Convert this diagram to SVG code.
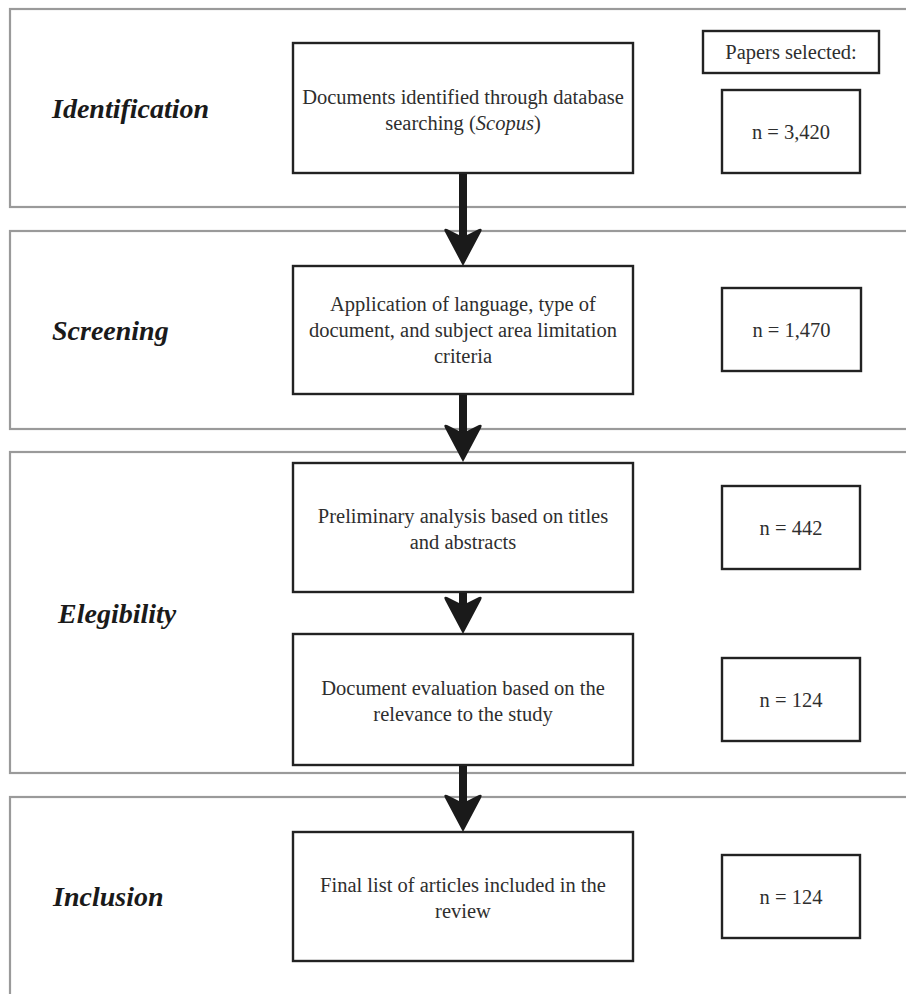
<svg xmlns="http://www.w3.org/2000/svg" width="906" height="994" viewBox="0 0 906 994">
<defs>
<style>
.sec{fill:#fff;stroke:#9a9a9a;stroke-width:2.2}
.box{fill:#fff;stroke:#222;stroke-width:2.4}
.t{font-family:"Liberation Serif","Times New Roman",serif;font-size:20.5px;fill:#2e2e2e;text-anchor:middle}
.lab{font-family:"Liberation Serif","Times New Roman",serif;font-size:28px;font-weight:bold;font-style:italic;fill:#1a1a1a}
.arr{stroke:#1a1a1a;stroke-width:8;fill:none}
</style>
<marker id="head" markerUnits="userSpaceOnUse" orient="auto" markerWidth="42" markerHeight="42" viewBox="0 -21 42 42" refX="12" refY="0">
<path d="M39,0 L5,-18 Q1,-20 2,-16 L10,0 L2,16 Q1,20 5,18 Z" fill="#1a1a1a"/>
</marker>
</defs>
<rect width="906" height="994" fill="#fff"/>
<g id="sections">
<rect class="sec" x="10" y="9" width="920" height="198"/>
<rect class="sec" x="10" y="231" width="920" height="198"/>
<rect class="sec" x="10" y="452" width="920" height="321"/>
<rect class="sec" x="10" y="797" width="920" height="210"/>
<text class="lab" x="52" y="118">Identification</text>
<text class="lab" x="52" y="340">Screening</text>
<text class="lab" x="58" y="623">Elegibility</text>
<text class="lab" x="53" y="906">Inclusion</text>
</g>
<g id="connectors">
<line class="arr" x1="463" y1="173" x2="463" y2="239" marker-end="url(#head)"/>
<line class="arr" x1="463" y1="394" x2="463" y2="435" marker-end="url(#head)"/>
<line class="arr" x1="463" y1="592" x2="463" y2="607" marker-end="url(#head)"/>
<line class="arr" x1="463" y1="765" x2="463" y2="805" marker-end="url(#head)"/>
</g>
<g id="papers-selected">
<rect class="box" x="703" y="31" width="176" height="42"/>
<text class="t" x="791" y="59">Papers selected:</text>
</g>
<g id="node-identification">
<rect class="box" x="293" y="43" width="340" height="130"/>
<text class="t" x="463" y="104">Documents identified through database</text>
<text class="t" x="463" y="130">searching (<tspan font-style="italic">Scopus</tspan>)</text>
</g>
<g id="n-identification">
<rect class="box" x="722" y="90" width="138" height="83"/>
<text class="t" x="791" y="139">n = 3,420</text>
</g>
<g id="node-screening">
<rect class="box" x="293" y="266" width="340" height="128"/>
<text class="t" x="463" y="311">Application of language, type of</text>
<text class="t" x="463" y="337">document, and subject area limitation</text>
<text class="t" x="463" y="363">criteria</text>
</g>
<g id="n-screening">
<rect class="box" x="722" y="288" width="139" height="83"/>
<text class="t" x="791.5" y="337">n = 1,470</text>
</g>
<g id="node-preliminary">
<rect class="box" x="293" y="463" width="340" height="129"/>
<text class="t" x="463" y="523">Preliminary analysis based on titles</text>
<text class="t" x="463" y="549">and abstracts</text>
</g>
<g id="n-preliminary">
<rect class="box" x="722" y="486" width="138" height="83"/>
<text class="t" x="791" y="535">n = 442</text>
</g>
<g id="node-evaluation">
<rect class="box" x="293" y="634" width="340" height="131"/>
<text class="t" x="463" y="695">Document evaluation based on the</text>
<text class="t" x="463" y="721">relevance to the study</text>
</g>
<g id="n-evaluation">
<rect class="box" x="722" y="658" width="138" height="83"/>
<text class="t" x="791" y="707">n = 124</text>
</g>
<g id="node-inclusion">
<rect class="box" x="293" y="832" width="340" height="129"/>
<text class="t" x="463" y="892">Final list of articles included in the</text>
<text class="t" x="463" y="918">review</text>
</g>
<g id="n-inclusion">
<rect class="box" x="722" y="855" width="138" height="83"/>
<text class="t" x="791" y="904">n = 124</text>
</g>
</svg>
